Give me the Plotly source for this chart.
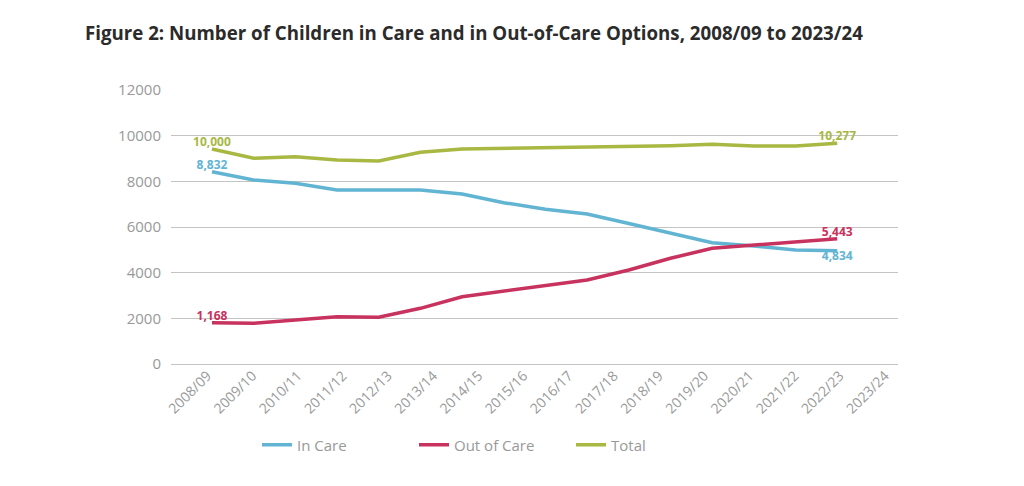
import plotly.graph_objects as go

periods = ["2008/09", "2009/10", "2010/11", "2011/12", "2012/13", "2013/14", "2014/15", "2015/16",
           "2016/17", "2017/18", "2018/19", "2019/20", "2020/21", "2021/22", "2022/23", "2023/24"]
in_care = [8423, 8059, 7914, 7621, 7621, 7621, 7446, 7066, 6776, 6570, 6150, 5725, 5313, 5169, 4993, 4963]
out_of_care = [1810, 1781, 1927, 2073, 2044, 2438, 2948, 3197, 3460, 3679, 4117, 4630, 5068, 5212, 5331, 5488]
total = [9417, 9010, 9080, 8935, 8892, 9273, 9417, 9448, 9448, 9490, 9518, 9562, 9622, 9549, 9549, 9667]

in_care_labels = ["8,832", "4,834"]
out_labels = ["1,168", "5,443"]
total_labels = ["10,000", "10,277"]

c_in = "#62b4d3"
c_out = "#c8325e"
c_tot = "#a8b843"

idx = list(range(len(periods)))
n = len(periods)


def end_text(labels):
    t = [""] * n
    t[0] = "<b>" + labels[0] + "</b>"
    t[-1] = "<b>" + labels[1] + "</b>"
    return t


fig = go.Figure()
fig.add_trace(go.Scatter(
    x=idx, y=in_care, name="In Care", mode="lines+text",
    line=dict(color=c_in, width=3.5),
    text=end_text(in_care_labels),
    textposition=["top center"] * (n - 1) + ["bottom center"],
    textfont=dict(color=c_in, size=12, family="Open Sans"),
))
fig.add_trace(go.Scatter(
    x=idx, y=out_of_care, name="Out of Care", mode="lines+text",
    line=dict(color=c_out, width=3.5),
    text=end_text(out_labels), textposition="top center",
    textfont=dict(color=c_out, size=12, family="Open Sans"),
))
fig.add_trace(go.Scatter(
    x=idx, y=total, name="Total", mode="lines+text",
    line=dict(color=c_tot, width=3.5),
    text=end_text(total_labels), textposition="top center",
    textfont=dict(color=c_tot, size=12, family="Open Sans"),
))

step_ratio = 45.2 / 41.7
tickvals = [-0.113 + i * step_ratio for i in idx]

fig.update_layout(
    width=1024, height=486,
    margin=dict(l=163, r=134, t=82, b=130),
    paper_bgcolor="white", plot_bgcolor="white",
    font=dict(family="Open Sans", color="#999999"),
    title=dict(
        text="<b>Figure 2: Number of Children in Care and in Out-of-Care Options, 2008/09 to 2023/24</b>",
        x=77 / 1024, xanchor="left", xref="container",
        y=1 - 25 / 486, yanchor="middle",
        font=dict(size=18.7, color="#2b2b2b", family="Open Sans"),
    ),
    xaxis=dict(
        range=[-0.983, 16.458], showgrid=False, zeroline=False, showline=False,
        tickmode="array", tickvals=tickvals, ticktext=periods, tickangle=-45,
        ticks="", tickfont=dict(size=14, color="#999999"),
    ),
    yaxis=dict(
        range=[0, 12000], tickvals=[0, 2000, 4000, 6000, 8000, 10000, 12000],
        showgrid=True, gridcolor="#c4c4c4", gridwidth=1.3,
        zeroline=True, zerolinecolor="#c4c4c4", zerolinewidth=1.3,
        showline=False, ticks="", ticklabelstandoff=9,
        tickfont=dict(size=15, color="#999999"), tickformat="d",
    ),
    showlegend=True,
    legend=dict(
        orientation="h", x=(257 - 171) / 727, xanchor="left",
        y=(364 - 445) / 274, yanchor="middle",
        font=dict(size=15, color="#999999"),
        entrywidth=112, entrywidthmode="pixels",
    ),
)

fig.write_html("out.html")
